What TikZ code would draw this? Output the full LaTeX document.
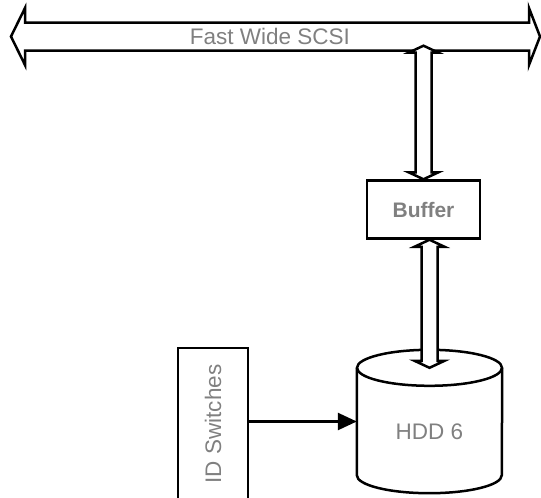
\documentclass[tikz,border=0pt]{standalone}
\usepackage{fontspec}
\setmainfont{Liberation Sans}
\usetikzlibrary{calc,arrows.meta}

\definecolor{labelGray}{HTML}{808080}

\tikzset{
    outline/.style={draw=black, line width=2.5pt},
    label text/.style={text=labelGray, font=\fontsize{22.5}{26}\selectfont},
    fat link/.style={outline, fill=white, line join=miter, to path={
        let \p1=(\tikztostart), \p2=(\tikztotarget) in
        (\x1,\y1) -- (\x1+15pt,\y1-7pt) -- (\x1+8pt,\y1-7pt) -- (\x1+8pt,\y2+7pt)
        -- (\x1+15pt,\y2+7pt) -- (\x1,\y2) -- (\x1-15pt,\y2+7pt) -- (\x1-8pt,\y2+7pt)
        -- (\x1-8pt,\y1-7pt) -- (\x1-15pt,\y1-7pt) -- cycle}}
}

\begin{document}
\begin{tikzpicture}[x=1pt, y=-1pt]
    \useasboundingbox (0,0) rectangle (541,498);

    % bus
    \draw[outline, line join=miter] (11,36.5) -- (25,8) -- (25,22.5) -- (529,22.5) -- (529,8)
        -- (540,36.5) -- (529,65) -- (529,50.5) -- (25,50.5) -- (25,65) -- cycle;
    \node[label text, minimum height=28pt, inner sep=0pt] (bus) at (270,36.5) {Fast Wide SCSI};

    \node[outline, label text, font=\fontsize{21}{25}\selectfont\bfseries,
        minimum width=113pt, minimum height=58pt] (buffer) at (423.5,209.5) {Buffer};

    \node[outline, label text, rotate=90, minimum width=152pt, minimum height=70pt,
        inner sep=0pt] (idsw) at (213,424) {ID Switches};

    % disk
    \node[label text, minimum width=145pt, minimum height=143pt, inner sep=0pt,
        text height=36pt, text depth=0pt] (hdd) at (429.5,421.5) {HDD 6};
    \draw[outline] ($(hdd.north west)+(0,18)$) -- ($(hdd.south west)+(0,-18)$)
        arc[start angle=180, end angle=360, x radius=72.5pt, y radius=18pt]
        -- ($(hdd.north east)+(0,18)$);
    \coordinate (hddTop) at ($(hdd.north)+(0,18)$);
    \draw[outline] (hddTop) ellipse [x radius=72.5pt, y radius=18pt];

    \coordinate (busTap) at ($(bus.south -| buffer.north)+(0,-5)$);
    \coordinate (bufLow) at (buffer.south -| hdd.north);
    \draw[fat link] (busTap) to (buffer.north);
    \draw[fat link] (bufLow) to (hddTop);

    \draw[outline, -{Triangle[length=19pt, width=17pt]}] (idsw.south |- hdd.west) -- (hdd.west);
\end{tikzpicture}
\end{document}
